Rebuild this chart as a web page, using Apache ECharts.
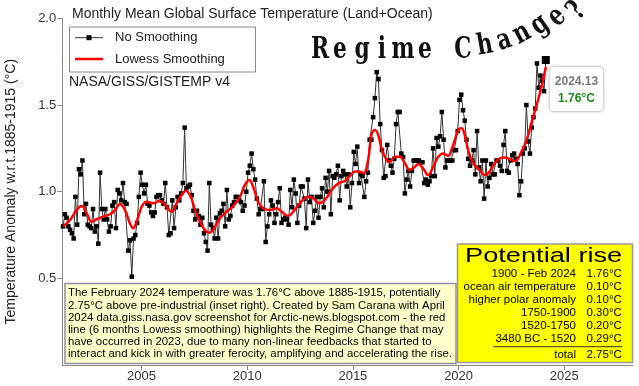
<!DOCTYPE html>
<html><head><meta charset="utf-8">
<script src="https://cdn.jsdelivr.net/npm/echarts@6/dist/echarts.min.js"></script>
<style>html,body{margin:0;padding:0;background:#fff}#c{width:639px;height:386px}</style>
</head><body><div id="c"></div>
<script>
// ---------- data ----------
const startYear = 2001, startMonth = 4; // first monthly value: April 2001
const t2001 = [0.80, 0.87, 0.85, 0.80, 0.78, 0.76, 0.73, 0.97, 0.81];
const t2002 = [1.13, 1.10, 1.18, 0.87, 0.93, 0.81, 0.80, 0.79, 0.90, 0.77, 0.80, 0.70];
const t2003 = [1.11, 0.90, 0.84, 0.90, 0.84, 0.77, 0.80, 0.92, 0.94, 0.79, 1.01, 0.99];
const t2004 = [0.95, 1.05, 0.94, 0.93, 0.66, 0.72, 0.51, 0.73, 0.75, 0.82, 0.97, 1.11];
const t2005 = [1.04, 0.99, 1.04, 0.93, 0.92, 0.88, 0.86, 0.88, 0.97, 0.98, 0.98, 0.95];
const t2006 = [0.93, 1.05, 0.91, 0.75, 0.76, 0.95, 0.79, 0.91, 0.97, 0.95, 0.99, 1.05];
const t2007 = [1.37, 1.02, 1.03, 1.04, 0.98, 0.89, 0.84, 0.89, 0.86, 0.81, 0.85, 0.76];
const t2008 = [0.71, 0.66, 1.05, 0.81, 0.79, 0.73, 0.85, 0.73, 0.875, 0.89, 0.93, 0.80];
const t2009 = [1.01, 0.84, 0.86, 0.92, 0.94, 0.97, 0.97, 0.95, 0.94, 0.89, 0.92, 1.00];
const t2010 = [1.11, 1.15, 1.22, 1.13, 1.07, 0.96, 0.87, 0.90, 0.90, 1.06, 0.71, 0.80];
const t2011 = [0.87, 0.95, 0.92, 0.82, 0.87, 0.94, 1.02, 0.82, 0.84, 0.85, 0.84, 0.81];
const t2012 = [1.01, 0.91, 1.07, 0.99, 0.82, 0.92, 1.03, 1.03, 0.96, 0.79, 1.07, 0.94];
const t2013 = [0.97, 0.82, 0.89, 0.97, 0.85, 0.97, 1.02, 0.91, 1.08, 1.00, 1.12, 0.87];
const t2014 = [1.09, 1.08, 1.10, 1.15, 0.95, 1.09, 1.12, 1.10, 1.03, 1.10, 0.91, 1.05];
const t2015 = [1.23, 1.16, 1.26, 1.05, 1.10, 1.09, 0.97, 1.06, 1.11, 1.30, 1.30, 1.43];
const t2016 = [1.54, 1.69, 1.65, 1.39, 1.24, 1.08, 1.09, 1.27, 1.18, 1.15, 1.11, 1.19];
const t2017 = [1.39, 1.46, 1.46, 1.22, 1.20, 0.99, 1.07, 1.12, 1.03, 1.12, 1.18, 1.18];
const t2018 = [1.18, 1.18, 1.17, 1.17, 1.05, 1.07, 1.04, 1.06, 1.09, 1.25, 1.09, 1.31];
const t2019 = [1.26, 1.32, 1.46, 1.30, 1.14, 1.18, 1.18, 1.18, 1.18, 1.24, 1.24, 1.35];
const t2020 = [1.53, 1.56, 1.47, 1.41, 1.30, 1.19, 1.15, 1.18, 1.24, 1.10, 1.35, 1.14];
const t2021 = [1.06, 1.18, 0.96, 1.18, 1.03, 1.08, 1.16, 1.10, 1.10, 1.18, 1.18, 1.15];
const t2022 = [1.12, 1.27, 1.35, 1.12, 1.11, 1.18, 1.21, 1.22, 1.19, 1.16, 0.98, 1.06];
const t2023 = [1.22, 1.25, 1.50, 1.29, 1.22, 1.37, 1.43, 1.48, 1.74, 1.60, 1.67, 1.64];
const t2024 = [1.58, 1.76];

// red line: 6 months Lowess smoothing
const lowessYears = [2001.29, 2001.62, 2001.93, 2002.17, 2002.41, 2002.64, 2002.88, 2003.19, 2003.51, 2003.75,
  2003.98, 2004.22, 2004.45, 2004.61, 2004.77, 2005.01, 2005.24, 2005.56, 2005.87, 2006.11, 2006.43, 2006.66,
  2006.90, 2007.10, 2007.33, 2007.53, 2007.77, 2008.00, 2008.21, 2008.43, 2008.71, 2009.03, 2009.34, 2009.66,
  2009.89, 2010.10, 2010.29, 2010.52, 2010.76, 2011.08, 2011.39, 2011.63, 2011.94, 2012.18, 2012.49, 2012.89,
  2013.12, 2013.41, 2013.68, 2013.99, 2014.31, 2014.62, 2014.86, 2015.10, 2015.30, 2015.50, 2015.72, 2015.88,
  2016.04, 2016.20, 2016.35, 2016.59, 2016.75, 2016.99, 2017.22, 2017.46, 2017.69, 2017.93, 2018.09, 2018.32,
  2018.56, 2018.80, 2019.04, 2019.27, 2019.51, 2019.66, 2019.82, 2019.98, 2020.14, 2020.29, 2020.45, 2020.69,
  2021.00, 2021.24, 2021.47, 2021.71, 2021.95, 2022.19, 2022.42, 2022.66, 2022.82, 2022.97, 2023.13, 2023.29,
  2023.44, 2023.60, 2023.76, 2023.92, 2024.13];
const lowessValues = [0.80, 0.837, 0.894, 0.917, 0.875, 0.827, 0.841, 0.856, 0.870, 0.894,
  0.929, 0.894, 0.818, 0.789, 0.827, 0.913, 0.942, 0.933, 0.948, 0.923, 0.885, 0.933,
  0.981, 1.006, 0.971, 0.894, 0.827, 0.779, 0.763, 0.789, 0.846, 0.885, 0.917, 0.971,
  1.039, 1.068, 1.025, 0.942, 0.904, 0.894, 0.904, 0.885, 0.860, 0.885, 0.933, 0.971,
  0.962, 0.933, 0.952, 1.010, 1.048, 1.062, 1.091, 1.116, 1.116, 1.106, 1.183, 1.327,
  1.356, 1.327, 1.250, 1.183, 1.173, 1.202, 1.202, 1.164, 1.125, 1.144, 1.160, 1.135,
  1.096, 1.144, 1.202, 1.221, 1.206, 1.241, 1.298, 1.356, 1.366, 1.327, 1.241, 1.164,
  1.125, 1.096, 1.116, 1.164, 1.193, 1.198, 1.187, 1.177, 1.193, 1.231, 1.270, 1.327,
  1.395, 1.462, 1.529, 1.606, 1.72];

const xTickYears = [2005, 2010, 2015, 2020, 2025];
const yTicks = [0.5, 1.0, 1.5, 2.0];
const legendNames = ['No Smoothing', 'Lowess Smoothing'];

const noteLines = [
  'The February 2024 temperature was 1.76°C above 1885-1915, potentially',
  '2.75°C above pre-industrial (inset right). Created by Sam Carana with April',
  '2024 data.giss.nasa.gov screenshot for Arctic-news.blogspot.com - the red',
  'line (6 months Lowess smoothing) highlights the Regime Change that may',
  'have occurred in 2023, due to many non-linear feedbacks that started to',
  'interact and kick in with greater ferocity, amplifying and accelerating the rise.'
];
const insetLabels = ['1900 - Feb 2024', 'ocean air temperature', 'higher polar anomaly', '1750-1900', '1520-1750', '3480 BC - 1520'];
const insetValues = [1.76, 0.10, 0.10, 0.30, 0.20, 0.29];
const insetTotal = 2.75;

// ---------- build ----------
const anomalies = [].concat(t2001, t2002, t2003, t2004, t2005, t2006, t2007, t2008, t2009, t2010, t2011, t2012,
  t2013, t2014, t2015, t2016, t2017, t2018, t2019, t2020, t2021, t2022, t2023, t2024);
const monthly = anomalies.map((v, i) => [startYear + (startMonth - 1 + i + 0.5) / 12, v]);
const last = monthly[monthly.length - 1];
const lowess = lowessYears.map((y, i) => [y, lowessValues[i]]);

const SANS = '"Liberation Sans", Arial, sans-serif';
const chart = echarts.init(document.getElementById('c'), null, {renderer: 'canvas'});

const graphic = [];
// legend box
graphic.push({type: 'rect', z: 50, shape: {x: 69.5, y: 27, width: 186, height: 45},
  style: {fill: '#fff', stroke: '#888', lineWidth: 1}});
graphic.push({type: 'line', z: 51, shape: {x1: 75, y1: 37.7, x2: 103, y2: 37.7}, style: {stroke: '#333', lineWidth: 1}});
graphic.push({type: 'rect', z: 52, shape: {x: 86.5, y: 35.2, width: 5, height: 5}, style: {fill: '#000'}});
graphic.push({type: 'line', z: 51, shape: {x1: 75, y1: 59, x2: 103, y2: 59}, style: {stroke: '#ff0000', lineWidth: 2.5}});
legendNames.forEach((t, i) => graphic.push({type: 'text', z: 51, x: 115, y: i ? 59 : 37.7,
  style: {text: t, font: '13px ' + SANS, fill: '#222', align: 'left', verticalAlign: 'middle'}}));
// note box
graphic.push({type: 'rect', z: 50, shape: {x: 65, y: 283.5, width: 391, height: 80},
  style: {fill: '#ffffcc', stroke: '#8f8fa6', lineWidth: 1.5}});
noteLines.forEach((t, i) => graphic.push({type: 'text', z: 51, x: 68, y: 293.3 + 12.1 * i,
  style: {text: t, font: '11.4px ' + SANS, fill: '#000', align: 'left', verticalAlign: 'middle'}}));
// inset table
graphic.push({type: 'rect', z: 50, shape: {x: 457.5, y: 244, width: 175, height: 118.5},
  style: {fill: '#ffff00', stroke: '#999', lineWidth: 1.5}});
graphic.push({type: 'text', z: 51, x: 465, y: 256.5, scaleX: 1.36,
  style: {text: 'Potential rise', font: '20px ' + SANS, fill: '#000', align: 'left', verticalAlign: 'middle'}});
insetLabels.forEach((t, i) => {
  const y = 274.3 + 12.9 * i;
  graphic.push({type: 'text', z: 51, x: 576, y: y, style: {text: t, font: '11.5px ' + SANS, fill: '#000', align: 'right', verticalAlign: 'middle'}});
  graphic.push({type: 'text', z: 51, x: 586.5, y: y, style: {text: insetValues[i].toFixed(2) + '°C', font: '11.5px ' + SANS, fill: '#000', align: 'left', verticalAlign: 'middle'}});
});
graphic.push({type: 'line', z: 51, shape: {x1: 493, y1: 346.7, x2: 622, y2: 346.7}, style: {stroke: '#333', lineWidth: 1}});
graphic.push({type: 'text', z: 51, x: 576, y: 354.5, style: {text: 'total', font: '11.5px ' + SANS, fill: '#000', align: 'right', verticalAlign: 'middle'}});
graphic.push({type: 'text', z: 51, x: 586.5, y: 354.5, style: {text: insetTotal.toFixed(2) + '°C', font: '11.5px ' + SANS, fill: '#000', align: 'left', verticalAlign: 'middle'}});
// source line
graphic.push({type: 'text', z: 51, x: 69, y: 82, style: {text: 'NASA/GISS/GISTEMP v4', font: '14px ' + SANS, fill: '#222', align: 'left', verticalAlign: 'middle'}});
// "Regime Change?" headline, letters along a rising curve
const headline = [
  ['R', 320, 50, 0], ['e', 340, 50, 0], ['g', 362, 50, 0], ['i', 382, 50, 0], ['m', 403, 50, 0], ['e', 425, 50, 0],
  ['C', 463, 50, 3], ['h', 485, 46, 10], ['a', 504, 41, 18], ['n', 522, 34, 28], ['g', 540, 25, 36], ['e', 557, 17, 42], ['?', 577, 11, 50]
];
headline.forEach(([ch, x, y, r]) => graphic.push({type: 'text', z: 60, x: x, y: y, rotation: r * Math.PI / 180, scaleX: 0.75,
  style: {text: ch, font: 'bold 29px "DejaVu Serif", serif', fill: '#111', align: 'center', verticalAlign: 'middle'}}));

chart.setOption({
  animation: false,
  title: {text: 'Monthly Mean Global Surface Temperature (Land+Ocean)', left: 67, top: 2,
    textStyle: {fontSize: 14, fontWeight: 'normal', color: '#222', fontFamily: SANS}},
  grid: {left: 62.2, right: 6, top: 18.4, bottom: 21, containLabel: false, outerBoundsMode: 'none'},
  xAxis: {type: 'value', min: 2001.25, max: 2028.25, splitLine: {show: false},
    axisLine: {onZero: false, lineStyle: {color: '#888'}},
    axisTick: {show: true, length: 5, customValues: xTickYears, lineStyle: {color: '#888'}},
    axisLabel: {customValues: xTickYears, fontSize: 13, color: '#333', margin: 5, fontFamily: SANS, formatter: v => String(v)}},
  yAxis: {type: 'value', min: 0, max: 2, interval: 0.5, splitLine: {show: false},
    name: 'Temperature Anomaly w.r.t.1885-1915 (°C)', nameLocation: 'middle', nameGap: 44,
    nameTextStyle: {fontSize: 14, color: '#222', fontFamily: SANS},
    axisLine: {show: true, lineStyle: {color: '#888'}},
    axisTick: {show: true, length: 5, lineStyle: {color: '#888'}},
    axisLabel: {fontSize: 13, color: '#333', margin: 6, fontFamily: SANS, showMinLabel: false,
      formatter: v => yTicks.indexOf(v) >= 0 ? v.toFixed(1) : ''}},
  graphic: graphic,
  series: [
    {name: legendNames[0], type: 'line', data: monthly, symbol: 'rect', symbolSize: 4.5, z: 3,
      itemStyle: {color: '#000'}, lineStyle: {color: '#333', width: 1},
      markPoint: {symbol: 'rect', symbolSize: 8, silent: true, itemStyle: {color: '#000'},
        data: [{coord: last, value: last[1]}],
        label: {show: true, position: 'right', distance: 0, offset: [0, 29],
          formatter: () => '{y|' + last[0].toFixed(2) + '}\n{v|' + last[1].toFixed(2) + '°C}',
          backgroundColor: '#fff', borderColor: '#ddd', borderWidth: 1, borderRadius: 4, padding: [6, 5, 4, 5],
          shadowBlur: 3, shadowColor: 'rgba(0,0,0,0.15)',
          rich: {y: {fontSize: 12, color: '#777', fontFamily: SANS, fontWeight: 'bold', lineHeight: 17, align: 'center'},
                 v: {fontSize: 12, color: '#1a8a1a', fontFamily: SANS, fontWeight: 'bold', lineHeight: 17, align: 'center'}}}}},
    {name: legendNames[1], type: 'line', data: lowess, smooth: 0.4, symbol: 'none', z: 4,
      itemStyle: {color: '#ff0000'}, lineStyle: {color: '#ff0000', width: 2.5}}
  ]
});
</script></body></html>
